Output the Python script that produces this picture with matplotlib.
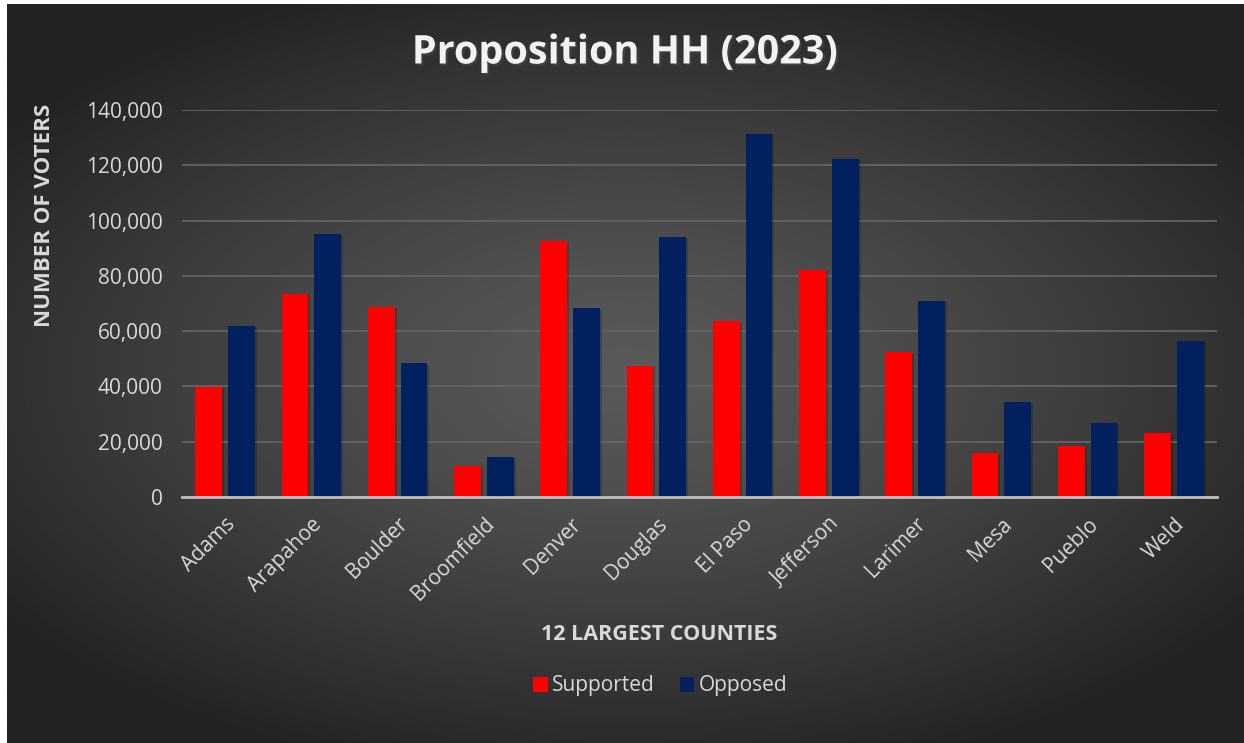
import numpy as np
import matplotlib.pyplot as plt
import matplotlib.patheffects as pe
from matplotlib.ticker import FuncFormatter

# Proposition HH (2023) votes, 12 largest Colorado counties
counties = ['Adams', 'Arapahoe', 'Boulder', 'Broomfield', 'Denver', 'Douglas',
            'El Paso', 'Jefferson', 'Larimer', 'Mesa', 'Pueblo', 'Weld']
supported = [39800, 73500, 68800, 11300, 92500, 47500, 63500, 82200, 52500, 15800, 18400, 23000]
opposed = [62000, 95100, 48300, 14600, 68200, 94200, 131300, 122300, 71000, 34400, 26900, 56400]

plt.rcParams['font.family'] = ['Open Sans', 'DejaVu Sans']
txt = '#d9d9d9'

fig = plt.figure(figsize=(12.44, 7.43), dpi=100)
fig.patch.set_facecolor('white')

# radial gradient background panel
bg = fig.add_axes([7/1244, 0, 1 - 7/1244, 1 - 4/743])
yy, xx = np.mgrid[-1:1:400j, -1:1:600j]
r = np.sqrt((xx / 1.05)**2 + (yy / 0.95)**2)
shade = np.clip(0.35 - 0.17 * r**1.3, 0.14, 0.35)
bg.imshow(shade, cmap='gray', vmin=0, vmax=1, aspect='auto', extent=[0, 1, 0, 1])
bg.axis('off')

ax = fig.add_axes([182/1244, 1 - 497/743, (1217 - 182)/1244, (497 - 110)/743])
ax.patch.set_alpha(0)

x = np.arange(len(counties))
w = 0.31
b1 = ax.bar(x - 0.19, supported, w, color='#ff0000', label='Supported', zorder=3)
b2 = ax.bar(x + 0.19, opposed, w, color='#002060', label='Opposed', zorder=3)

ax.set_xlim(-0.5, len(counties) - 0.5)
ax.set_ylim(0, 140000)
ax.set_yticks(np.arange(0, 140001, 20000))
ax.yaxis.set_major_formatter(FuncFormatter(lambda v, p: f'{int(v):,}'))
ax.grid(axis='y', color='#636363', lw=1.3, zorder=0)
for s in ['top', 'right', 'left']:
    ax.spines[s].set_visible(False)
ax.spines['bottom'].set_color('#bfbfbf')
ax.spines['bottom'].set_linewidth(2)
ax.spines['bottom'].set_zorder(4)
ax.tick_params(axis='both', length=0, colors=txt, labelsize=15)
ax.tick_params(axis='y', pad=14)
ax.set_xticks(x)
ax.set_xticklabels(counties, rotation=45, ha='right', rotation_mode='anchor')
ax.tick_params(axis='x', pad=12)

fig.text(625/1244, 1 - 53/743, 'Proposition HH (2023)', ha='center', va='center',
         fontsize=28.5, fontweight='bold', color='#f2f2f2',
         path_effects=[pe.withSimplePatchShadow(offset=(1.5, -1.5), alpha=0.6)])
fig.text(45/1244, 1 - 215/743, 'NUMBER OF VOTERS', rotation=90, ha='center', va='center',
         fontsize=16, fontweight='bold', color=txt)
fig.text(659/1244, 1 - 635/743, '12 LARGEST COUNTIES', ha='center', va='center',
         fontsize=15.5, fontweight='bold', color=txt)

leg = fig.legend(loc='center', bbox_to_anchor=(660/1244, 1 - 686/743), ncol=2, frameon=False,
                 fontsize=15, handlelength=0.7, handleheight=0.7, handletextpad=0.2,
                 columnspacing=1.2, labelcolor=txt)

# soft shadow on bars (added after legend so handles stay flat)
for p in list(b1) + list(b2):
    p.set_path_effects([pe.SimplePatchShadow(offset=(1.5, -1), shadow_rgbFace='black', alpha=0.2),
                        pe.Normal()])

fig.savefig('out.png', dpi=100, facecolor=fig.get_facecolor())
